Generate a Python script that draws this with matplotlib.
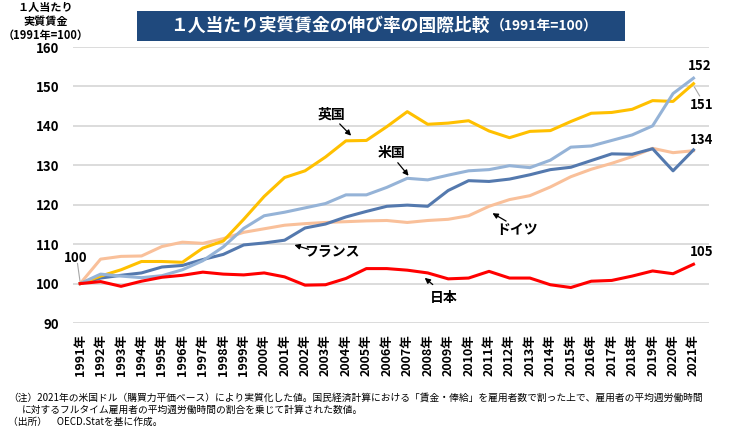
import matplotlib.pyplot as plt
from matplotlib.patches import Rectangle

plt.rcParams['font.family'] = ['Noto Sans CJK JP', 'DejaVu Sans']

years = [str(y) + '年' for y in range(1991, 2022)]

uk = [100, 101.9, 103.5, 105.6, 105.6, 105.4, 109.0, 110.8, 116.3, 122.1, 126.9, 128.6, 132.1, 136.2, 136.3,
      139.8, 143.6, 140.4, 140.7, 141.3, 138.7, 137.0, 138.6, 138.8, 141.1, 143.2, 143.4, 144.2, 146.4, 146.2, 150.7]
us = [100, 102.4, 101.9, 101.5, 102.0, 103.5, 105.8, 109.3, 114.0, 117.2, 118.1, 119.2, 120.3, 122.5, 122.5,
      124.4, 126.7, 126.3, 127.5, 128.6, 128.9, 129.9, 129.4, 131.3, 134.6, 134.9, 136.3, 137.7, 140.0, 148.2, 152.1]
france = [100, 101.4, 102.1, 102.7, 104.2, 104.6, 106.1, 107.4, 109.8, 110.3, 111.0, 114.1, 115.1, 116.9, 118.3,
          119.6, 119.9, 119.6, 123.6, 126.1, 125.9, 126.5, 127.6, 128.9, 129.5, 131.2, 132.9, 132.8, 134.2, 128.6, 133.9]
germany = [100, 106.2, 106.9, 107.0, 109.4, 110.5, 110.2, 111.4, 113.0, 113.9, 114.8, 115.2, 115.5, 115.7, 115.9,
           116.0, 115.5, 116.0, 116.3, 117.2, 119.6, 121.3, 122.3, 124.5, 127.1, 129.0, 130.5, 132.2, 134.3, 133.2, 133.7]
japan = [100, 100.5, 99.3, 100.6, 101.6, 102.1, 102.9, 102.4, 102.2, 102.7, 101.7, 99.6, 99.7, 101.3, 103.8,
         103.8, 103.4, 102.7, 101.2, 101.4, 103.1, 101.4, 101.4, 99.7, 99.0, 100.6, 100.8, 101.9, 103.2, 102.5, 104.9]

x = list(range(len(years)))

fig = plt.figure(figsize=(7.3, 4.32), dpi=100)
ax = fig.add_axes([0.1, 0.2523, 0.871, 0.6389])

lw = 2.2
ax.plot(x, germany, color='#F9C09A', lw=lw, zorder=3)
ax.plot(x, france, color='#5479AE', lw=lw, zorder=3)
ax.plot(x, uk, color='#FFC000', lw=lw, zorder=4)
ax.plot(x, us, color='#95B3D7', lw=lw, zorder=5)
ax.plot(x, japan, color='#FF0000', lw=lw, zorder=5)

ax.set_ylim(90, 160)
ax.set_xlim(-0.35, 30.75)
ax.set_yticks(range(90, 161, 10))
ax.set_xticks(x)
ax.set_xticklabels(years, rotation=90, fontsize=9, fontweight='bold')
for t in ax.get_yticklabels():
    t.set_fontweight('bold')
    t.set_fontsize(9.5)
ax.tick_params(length=0)
ax.tick_params(axis='y', pad=10)
ax.tick_params(axis='x', pad=8)
ax.grid(axis='y', color='#D9D9D9', lw=1.3)
ax.set_axisbelow(True)
for s in ax.spines.values():
    s.set_visible(False)

# value labels
bold = dict(fontsize=9.5, fontweight='bold', ha='center', va='center')
ax.text(-0.2, 106.6, '100', **bold)
ax.plot([-0.13, 0], [105.1, 100.3], color='#A6A6A6', lw=0.8)
ax.text(30.3, 155.1, '152', **bold)
ax.text(30.4, 145.4, '151', **bold)
ax.plot([30.05, 30.3], [149.8, 147.6], color='#A6A6A6', lw=0.8)
ax.text(30.4, 136.3, '134', **bold)
ax.text(30.4, 107.9, '105', **bold)

# country labels with arrows
labels = [
    ('英国', 12.3, 142.9, (12.6, 141.0), (13.35, 137.0)),
    ('米国', 15.24, 133.2, (15.45, 131.2), (16.15, 126.8)),
    ('フランス', 12.3, 107.9, (11.3, 108.5), (10.35, 110.0)),
    ('ドイツ', 21.35, 113.7, (20.95, 115.5), (20.05, 118.2)),
    ('日本', 17.8, 96.4, (17.35, 99.3), (16.75, 101.9)),
]
for name, tx, ty, tail, head in labels:
    ax.text(tx, ty, name, fontsize=10, fontweight='bold', ha='center', va='center', zorder=6)
    ax.annotate('', xy=head, xytext=tail,
                arrowprops=dict(arrowstyle='-|>', color='black', lw=0.9, mutation_scale=8), zorder=6)

# title box
fig.patches.append(Rectangle((0.188, 0.905), 0.668, 0.069, transform=fig.transFigure,
                             facecolor='#1F497D', edgecolor='none'))
main = fig.text(0.233, 0.94, '１人当たり実質賃金の伸び率の国際比較', color='white', fontsize=12.8,
                fontweight='bold', ha='left', va='center')
fig.canvas.draw()
bb = main.get_window_extent().transformed(fig.transFigure.inverted())
fig.text(bb.x1 + 0.002, 0.938, '（1991年=100）', color='white', fontsize=10,
         fontweight='bold', ha='left', va='center')

# y axis caption
fig.text(0.062, 0.982, '１人当たり', fontsize=8, fontweight='bold', ha='center', va='center')
fig.text(0.062, 0.951, '実質賃金', fontsize=8, fontweight='bold', ha='center', va='center')
fig.text(0.062, 0.918, '（1991年=100）', fontsize=8, fontweight='bold', ha='center', va='center')

# notes
fig.text(0.011, 0.079, '（注）2021年の米国ドル（購買力平価ベース）により実質化した値。国民経済計算における「賃金・俸給」を雇用者数で割った上で、雇用者の平均週労働時間',
         fontsize=7.0, ha='left', va='center')
fig.text(0.03, 0.051, 'に対するフルタイム雇用者の平均週労働時間の割合を乗じて計算された数値。',
         fontsize=7.0, ha='left', va='center')
fig.text(0.011, 0.023, '（出所）　OECD.Statを基に作成。', fontsize=7.0, ha='left', va='center')

fig.savefig('out.png', dpi=100)
